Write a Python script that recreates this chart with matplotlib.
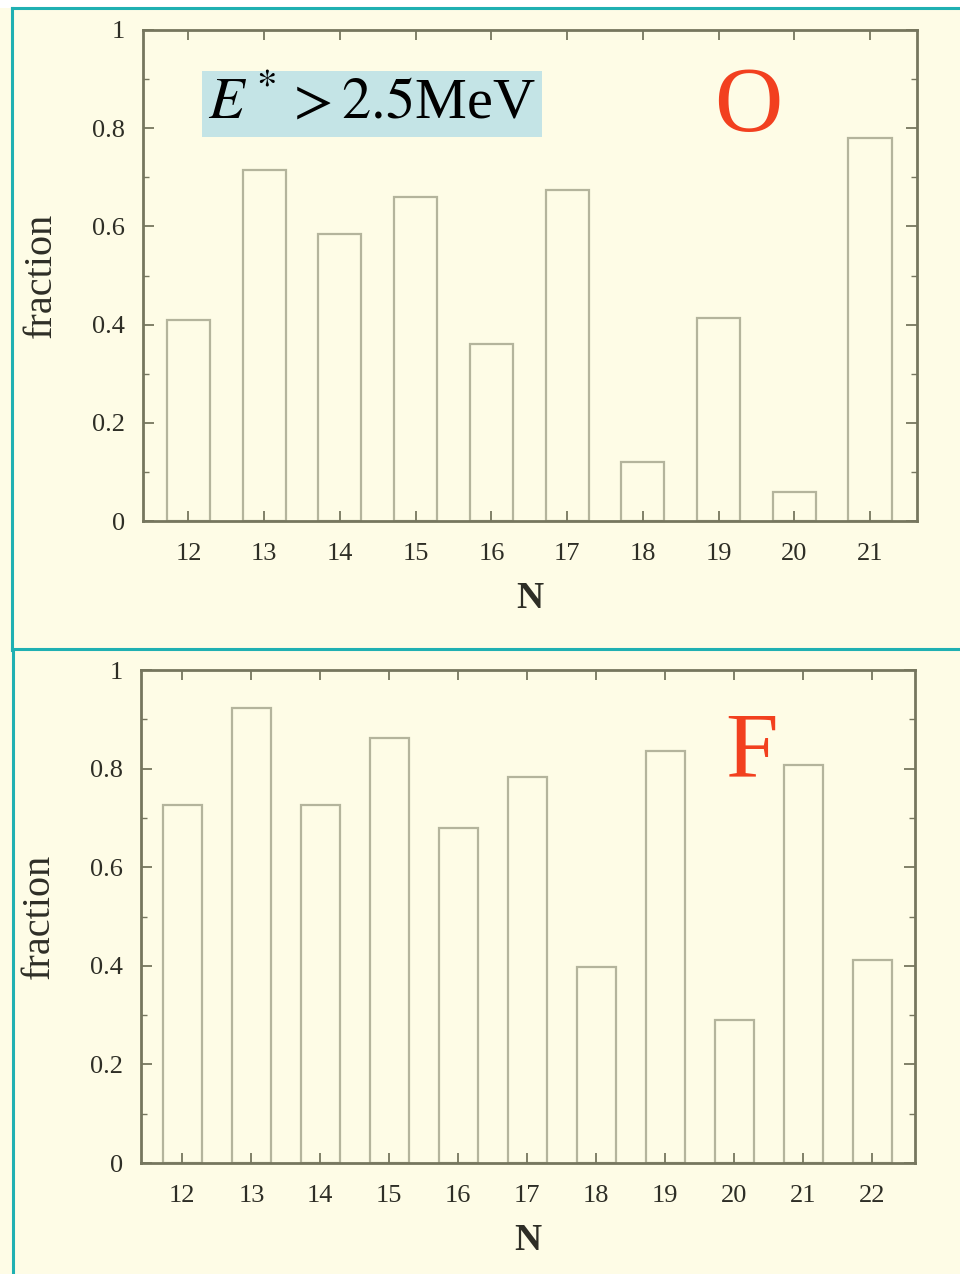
import matplotlib
matplotlib.use("Agg")
import matplotlib.pyplot as plt
from matplotlib.lines import Line2D
from matplotlib.patches import Rectangle
from matplotlib.ticker import MultipleLocator

# ---- data ----
n_O = [12, 13, 14, 15, 16, 17, 18, 19, 20, 21]
frac_O = [0.409, 0.715, 0.585, 0.660, 0.360, 0.674, 0.120, 0.413, 0.059, 0.780]
n_F = [12, 13, 14, 15, 16, 17, 18, 19, 20, 21, 22]
frac_F = [0.726, 0.923, 0.726, 0.862, 0.680, 0.783, 0.398, 0.836, 0.290, 0.807, 0.412]
yticks = [0, 0.2, 0.4, 0.6, 0.8, 1]
ytick_labels = ["0", "0.2", "0.4", "0.6", "0.8", "1"]

BG = "#fefce6"
AX = "#76765e"
BAR = "#b4b49c"
TXT = "#2e2e26"
TEAL = "#1fb0b2"
RED = "#f2401f"
SERIF = ["Liberation Serif", "DejaVu Serif"]

plt.rcParams["mathtext.fontset"] = "stix"

fig = plt.figure(figsize=(9.6, 12.74), dpi=100, facecolor=BG)

# slide decorations
fig.patches.append(Rectangle((0, 1 - 8 / 1274), 1, 8 / 1274, transform=fig.transFigure,
                             facecolor="white", edgecolor="none", zorder=0))
for xs, ys in [([12 / 960, 1], [1 - 8 / 1274] * 2),
               ([12 / 960, 12 / 960], [1 - 8 / 1274, 1 - 650 / 1274]),
               ([12 / 960, 1], [1 - 649 / 1274] * 2),
               ([13 / 960, 13 / 960], [1 - 650 / 1274, 0])]:
    fig.lines.append(Line2D(xs, ys, transform=fig.transFigure, color=TEAL, lw=2.2))


def panel(rect, n, frac, letter, letter_xy):
    ax = fig.add_axes(rect)
    ax.set_facecolor(BG)
    ax.bar(n, frac, width=0.57, facecolor="none", edgecolor=BAR, linewidth=1.6)
    ax.set_xlim(n[0] - 0.6, n[-1] + 0.62)
    ax.set_ylim(0, 1)
    ax.set_xticks(n)
    ax.set_xticklabels([str(v) for v in n], family=SERIF, fontsize=19, color=TXT)
    ax.set_yticks(yticks)
    ax.set_yticklabels(ytick_labels, family=SERIF, fontsize=19, color=TXT)
    ax.yaxis.set_minor_locator(MultipleLocator(0.1))
    ax.tick_params(axis="both", which="both", direction="in", top=True, right=True,
                   color=AX)
    ax.tick_params(axis="y", which="major", length=8, width=1.3, pad=13)
    ax.tick_params(axis="y", which="minor", length=4, width=1.0)
    ax.tick_params(axis="x", which="major", length=7, width=1.3, pad=16)
    for s in ax.spines.values():
        s.set_color(AX)
        s.set_linewidth(2.0)
    ax.set_ylabel("fraction", family=SERIF, fontsize=29, color=TXT)
    ax.yaxis.set_label_coords(-0.108, 0.5)
    ax.set_xlabel("N", family=SERIF, fontsize=27, color=TXT, fontweight="bold")
    ax.xaxis.set_label_coords(0.5, -0.122)
    fig.text(letter_xy[0] / 960, 1 - letter_xy[1] / 1274, letter, family=SERIF,
             fontsize=68, color=RED, ha="center", va="center")
    return ax


ax1 = panel([143 / 960, 1 - 521 / 1274, 774 / 960, 491 / 1274], n_O, frac_O, "O", (748, 108))
ax2 = panel([141 / 960, 1 - 1163 / 1274, 774 / 960, 493 / 1274], n_F, frac_F, "F", (752, 754))

fig.text(372 / 960, 1 - 104 / 1274, r"$E^*>2.5$MeV", family=SERIF, fontsize=42,
         color="black", ha="center", va="center",
         bbox=dict(boxstyle="square,pad=0.1", facecolor="#c4e4e6", edgecolor="none"))

fig.savefig("out.png", dpi=100, facecolor=BG)
